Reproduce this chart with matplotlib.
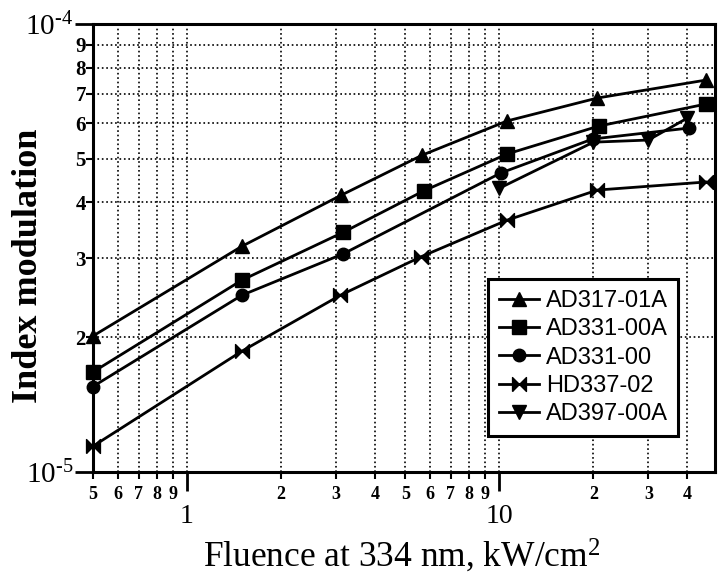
import numpy as np
import matplotlib
matplotlib.use("Agg")
import matplotlib.pyplot as plt
from matplotlib.ticker import FixedLocator, FixedFormatter

plt.rcParams["mathtext.fontset"] = "custom"
plt.rcParams["mathtext.rm"] = "Liberation Serif"
plt.rcParams["mathtext.it"] = "Liberation Serif:italic"
plt.rcParams["mathtext.bf"] = "Liberation Serif:bold"

# data (fluence kW/cm^2, index modulation)
x_317 = [0.5, 1.5, 3.12, 5.67, 10.6, 20.6, 45.8]
y_317 = [2.01e-5, 3.19e-5, 4.15e-5, 5.10e-5, 6.08e-5, 6.84e-5, 7.5e-5]
x_331a = [0.5, 1.5, 3.17, 5.72, 10.6, 20.8, 45.8]
y_331a = [1.67e-5, 2.68e-5, 3.43e-5, 4.24e-5, 5.13e-5, 5.92e-5, 6.63e-5]
x_331 = [0.5, 1.5, 3.17, 10.1, 19.9, 40.4]
y_331 = [1.55e-5, 2.48e-5, 3.07e-5, 4.65e-5, 5.54e-5, 5.86e-5]
x_337 = [0.5, 1.5, 3.1, 5.6, 10.6, 20.6, 45.8]
y_337 = [1.14e-5, 1.86e-5, 2.48e-5, 3.02e-5, 3.65e-5, 4.26e-5, 4.44e-5]
x_397 = [10.0, 20.0, 30.0, 40.0]
y_397 = [4.30e-5, 5.45e-5, 5.51e-5, 6.17e-5]

labels = ["AD317-01A", "AD331-00A", "AD331-00", "HD337-02", "AD397-00A"]

bowtie = [(-1, -1), (-1, 1), (1, -1), (1, 1), (-1, -1)]
series = [(x_317, y_317, "^"), (x_331a, y_331a, "s"), (x_331, y_331, "o"),
          (x_337, y_337, bowtie), (x_397, y_397, "v")]

fig = plt.figure(figsize=(7.2, 5.76), dpi=100)
ax = fig.add_axes([0.129, 0.181, 0.864, 0.777])

for (xs, ys, m), lab in zip(series, labels):
    ax.plot(xs, ys, color="black", lw=2, marker=m, ms=10 if m != "o" else 9,
            label=lab, zorder=3, clip_on=False)

ax.set_xscale("log")
ax.set_yscale("log")
ax.set_xlim(0.5, 49)
ax.set_ylim(1e-5, 1e-4)

# x ticks
xmaj = [1, 10]
xmin = [0.5, 0.6, 0.7, 0.8, 0.9, 2, 3, 4, 5, 6, 7, 8, 9, 20, 30, 40]
xmin_lab = ["5", "6", "7", "8", "9", "2", "3", "4", "5", "6", "7", "8", "9",
            "2", "3", "4"]
ax.xaxis.set_major_locator(FixedLocator(xmaj))
ax.xaxis.set_major_formatter(FixedFormatter(["1", "10"]))
ax.xaxis.set_minor_locator(FixedLocator(xmin))
ax.xaxis.set_minor_formatter(FixedFormatter(xmin_lab))

# y ticks
ymaj = [1e-5, 1e-4]
ymin = [k * 1e-5 for k in range(2, 10)]
ax.yaxis.set_major_locator(FixedLocator(ymaj))
ax.yaxis.set_major_formatter(FixedFormatter([r"10$^{\text{-5}}$", r"10$^{\text{-4}}$"]))
ax.yaxis.set_minor_locator(FixedLocator(ymin))
ax.yaxis.set_minor_formatter(FixedFormatter([str(k) for k in range(2, 10)]))

serif = "Liberation Serif"
ax.tick_params(axis="x", which="major", direction="out", length=14, width=2,
               pad=9, labelsize=20, labelfontfamily=serif)
ax.tick_params(axis="x", which="minor", direction="out", length=5, width=1.5,
               pad=5, labelsize=13, labelfontfamily=serif)
ax.tick_params(axis="y", which="major", direction="out", length=13, width=2,
               pad=1, labelsize=21, labelfontfamily=serif)
ax.tick_params(axis="y", which="minor", direction="out", length=5, width=1.5,
               pad=0, labelsize=15, labelfontfamily=serif)
for t in ax.xaxis.get_minorticklabels() + ax.yaxis.get_minorticklabels():
    t.set_fontweight("bold")

ax.grid(True, which="both", color="black", linestyle=":", lw=1.2, zorder=1)
ax.set_axisbelow(True)
for s in ax.spines.values():
    s.set_linewidth(2.2)

ax.set_xlabel(r"Fluence at 334 nm, kW/cm$^2$", fontfamily=serif, fontsize=25.5)
ax.xaxis.set_label_coords(0.497, -0.145)
ax.set_ylabel("Index modulation", fontfamily=serif, fontsize=26,
              fontweight="bold")
ax.yaxis.set_label_coords(-0.077, 0.46)

leg = ax.legend(loc="upper left", bbox_to_anchor=(0.635, 0.43), fancybox=False,
                edgecolor="black", framealpha=1, borderaxespad=0,
                prop={"family": "Liberation Sans", "size": 17},
                handlelength=1.7, borderpad=0.45, labelspacing=0.27,
                handletextpad=0.3)
leg.get_frame().set_linewidth(2.2)

fig.savefig("out.png", dpi=100)
